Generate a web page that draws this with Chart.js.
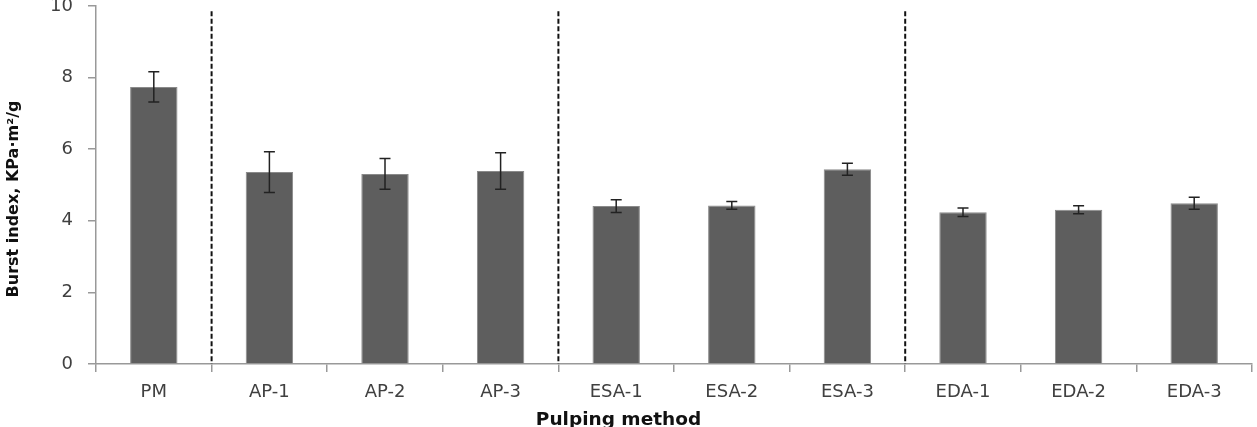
<!DOCTYPE html>
<html>
<head>
<meta charset="utf-8">
<script src="https://cdn.jsdelivr.net/npm/chart.js@4.4.1/dist/chart.umd.min.js"></script>
<style>
  html, body { margin: 0; padding: 0; background: #fff; }
  #wrap { width: 1257px; height: 427px; }
</style>
</head>
<body>
<div id="wrap"><canvas id="burst"></canvas></div>
<script>
var methods = ['PM', 'AP-1', 'AP-2', 'AP-3', 'ESA-1', 'ESA-2', 'ESA-3', 'EDA-1', 'EDA-2', 'EDA-3'];
var burst = [7.74, 5.36, 5.31, 5.39, 4.41, 4.43, 5.44, 4.24, 4.31, 4.49];
var burstErr = [0.42, 0.57, 0.43, 0.51, 0.18, 0.11, 0.17, 0.12, 0.11, 0.17];
var groupEnds = [0, 3, 6]; // dashed line after these categories
var yTicks = [0, 2, 4, 6, 8, 10];

var font = "'DejaVu Sans', sans-serif";

// error bars, dashed group lines and the two axis titles
var extras = {
	id: 'extras',
	afterDatasetsDraw: function(chart) {
		var ctx = chart.ctx;
		var x = chart.scales.x, y = chart.scales.y;
		var area = chart.chartArea;
		ctx.save();
		ctx.strokeStyle = '#222';
		ctx.lineWidth = 1.5;
		for (var i = 0; i < burst.length; i++) {
			var px = x.getPixelForValue(i);
			var hi = y.getPixelForValue(burst[i] + burstErr[i]);
			var lo = y.getPixelForValue(burst[i] - burstErr[i]);
			ctx.beginPath();
			ctx.moveTo(px, hi); ctx.lineTo(px, lo);
			ctx.moveTo(px - 5.5, hi); ctx.lineTo(px + 5.5, hi);
			ctx.moveTo(px - 5.5, lo); ctx.lineTo(px + 5.5, lo);
			ctx.stroke();
		}
		ctx.strokeStyle = '#111';
		ctx.lineWidth = 2;
		ctx.setLineDash([5, 2.5]);
		groupEnds.forEach(function(g) {
			var px = (x.getPixelForValue(g) + x.getPixelForValue(g + 1)) / 2;
			ctx.beginPath();
			ctx.moveTo(px, y.getPixelForValue(9.85));
			ctx.lineTo(px, y.getPixelForValue(0));
			ctx.stroke();
		});
		ctx.setLineDash([]);
		ctx.fillStyle = '#111';
		ctx.textAlign = 'center';
		ctx.textBaseline = 'middle';
		ctx.font = 'bold 18.5px ' + font;
		ctx.fillText('Pulping method', area.left + (area.right - area.left) * 0.452, 420);
		ctx.font = 'bold 16px ' + font;
		ctx.translate(14, 199);
		ctx.rotate(-Math.PI / 2);
		ctx.fillText('Burst index, KPa\u00b7m\u00b2/g', 0, 0);
		ctx.restore();
	}
};

var chart = new Chart(document.getElementById('burst'), {
	type: 'bar',
	data: {
		labels: methods,
		datasets: [{
			label: 'Burst index',
			data: burst,
			backgroundColor: '#5e5e5e',
			borderColor: '#8a8a8a',
			borderWidth: 1,
			barPercentage: 0.41,
			categoryPercentage: 1
		}]
	},
	options: {
		responsive: true,
		maintainAspectRatio: false,
		animation: false,
		layout: { padding: { top: 6, right: 5, left: 0, bottom: 0 } },
		plugins: { legend: { display: false }, tooltip: { enabled: false } },
		scales: {
			x: {
				grid: { offset: true, drawOnChartArea: false, tickLength: 8, color: '#999', lineWidth: 1.5 },
				border: { color: '#999', width: 1.5 },
				ticks: { color: '#404040', font: { family: font, size: 18 }, padding: 10, maxRotation: 0 },
				afterFit: function(s) { s.height = 63; s.paddingLeft = 0; s.paddingRight = 0; }
			},
			y: {
				min: 0,
				max: 10,
				afterBuildTicks: function(s) { s.ticks = yTicks.map(function(v) { return { value: v }; }); },
				grid: { drawOnChartArea: false, tickLength: 8, color: '#999', lineWidth: 1.5 },
				border: { color: '#999', width: 1.5 },
				ticks: { color: '#404040', font: { family: font, size: 18 }, padding: 15 },
				afterFit: function(s) { s.width = 96; s.paddingTop = 0; s.paddingBottom = 0; }
			}
		}
	},
	plugins: [extras]
});
</script>
</body>
</html>
